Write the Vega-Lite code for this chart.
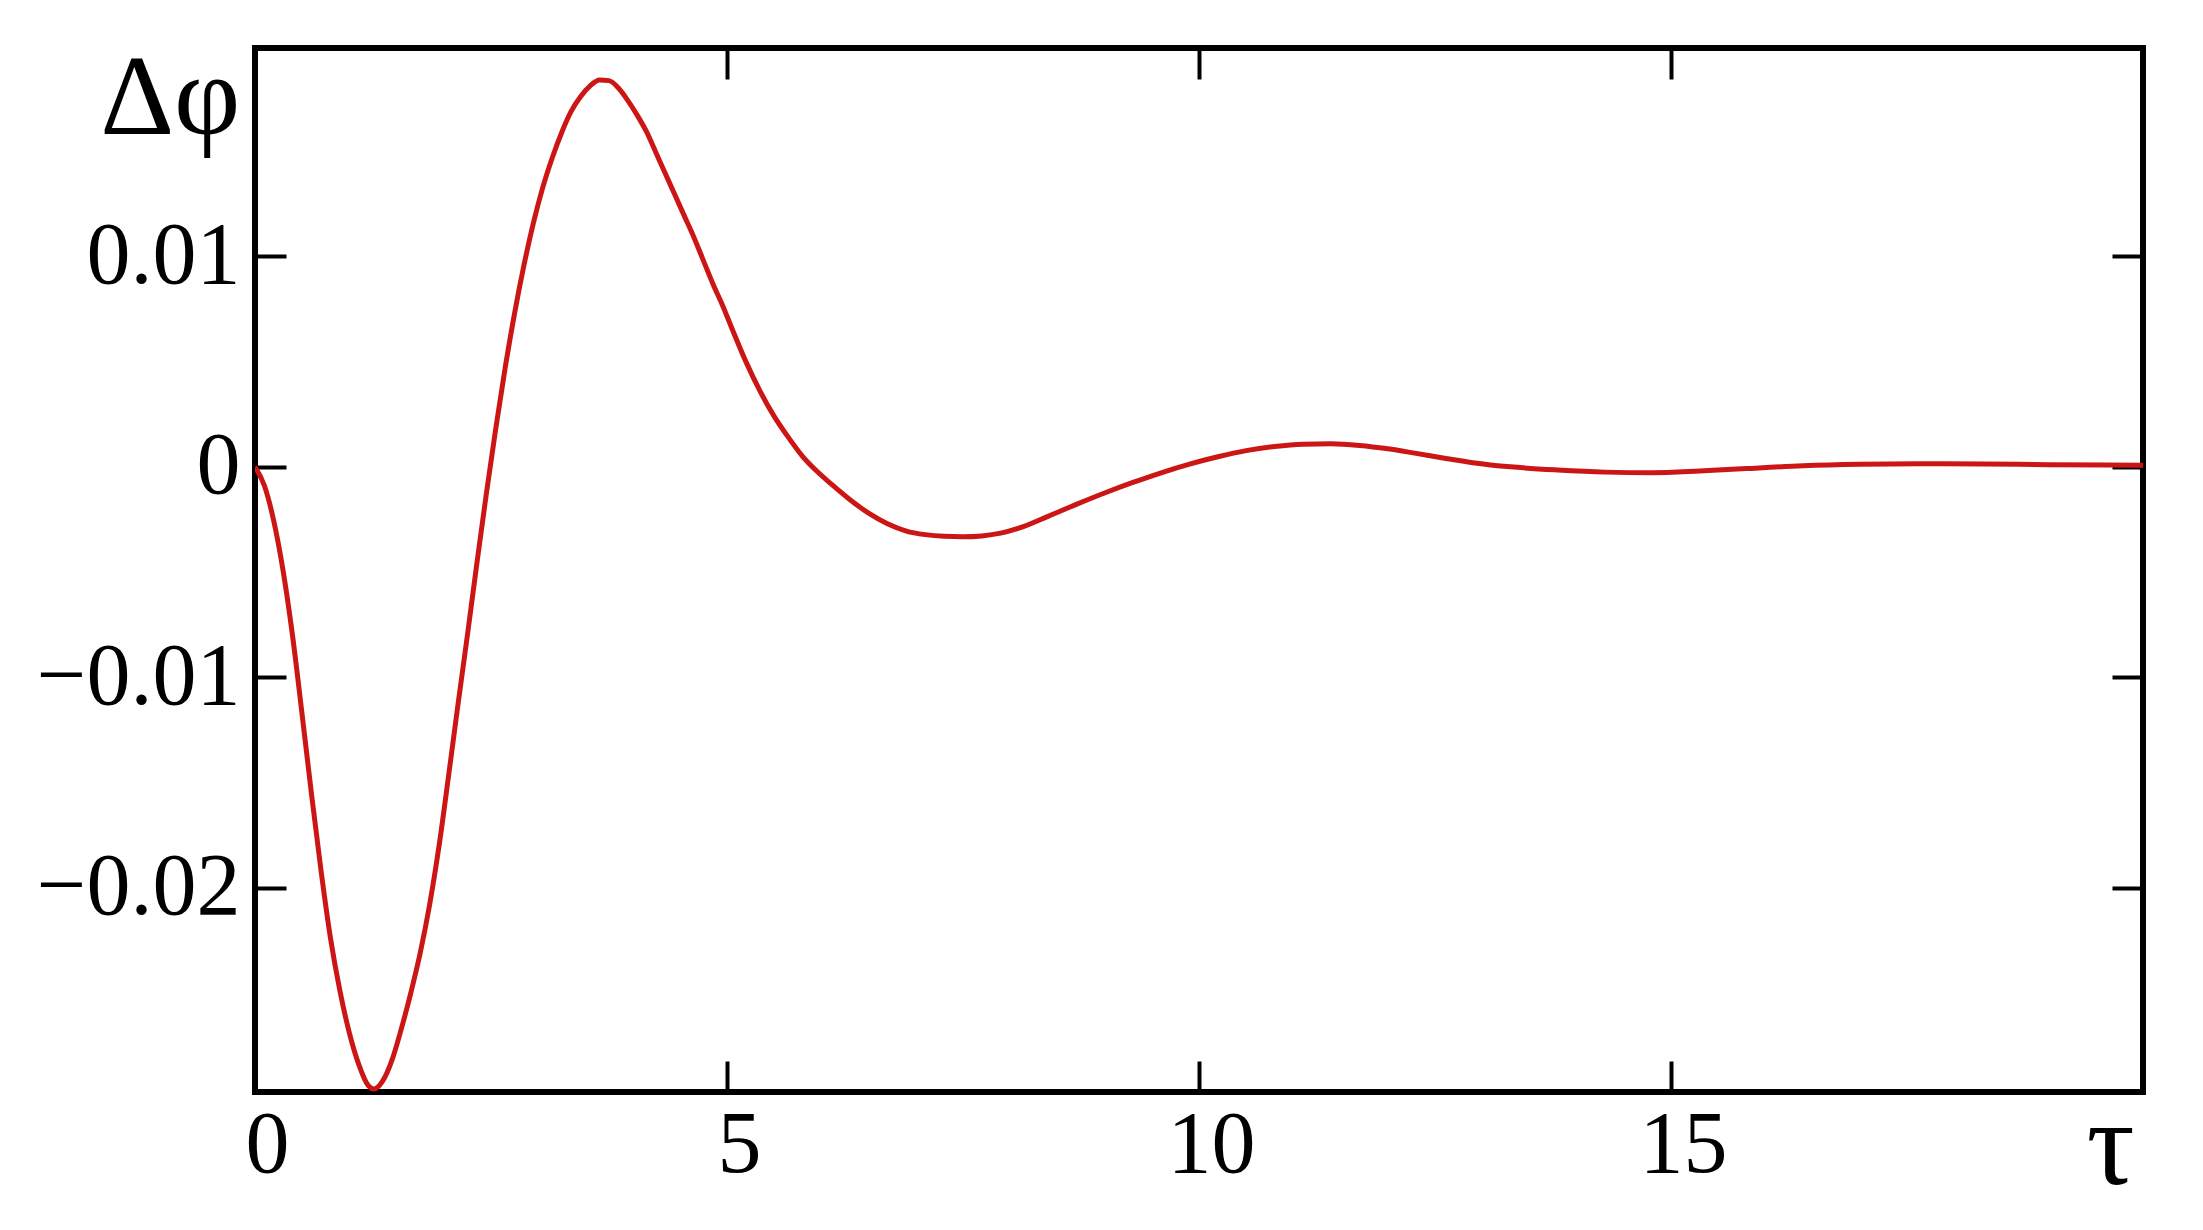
{
  "$schema": "https://vega.github.io/schema/vega-lite/v6.json",
  "autosize": {"type": "none"},
  "padding": {"left": 255, "top": 48, "right": 60, "bottom": 138},
  "width": 1888,
  "height": 1044,
  "background": "white",
  "config": {
    "view": {"stroke": "black", "strokeWidth": 6},
    "axis": {
      "grid": false,
      "domain": false,
      "tickColor": "black",
      "tickWidth": 4,
      "tickSize": -31,
      "labelFont": "Liberation Serif",
      "labelFontSize": 88,
      "labelColor": "black",
      "labelLimit": 0,
      "titleFont": "Liberation Serif",
      "titleFontWeight": "normal",
      "titleColor": "black"
    }
  },
  "data": {
    "values": [
      {"t": 0, "v": 0},
      {"t": 0.1, "v": -0.0009},
      {"t": 0.2, "v": -0.0026},
      {"t": 0.3, "v": -0.005},
      {"t": 0.4, "v": -0.0081},
      {"t": 0.5, "v": -0.0118},
      {"t": 0.6, "v": -0.0156},
      {"t": 0.7, "v": -0.0192},
      {"t": 0.8, "v": -0.0224},
      {"t": 0.9, "v": -0.0249},
      {"t": 1.0, "v": -0.0269},
      {"t": 1.1, "v": -0.0284},
      {"t": 1.2, "v": -0.0294},
      {"t": 1.26, "v": -0.02956},
      {"t": 1.35, "v": -0.0292},
      {"t": 1.45, "v": -0.0282},
      {"t": 1.55, "v": -0.0267},
      {"t": 1.65, "v": -0.025},
      {"t": 1.75, "v": -0.0231},
      {"t": 1.85, "v": -0.0208},
      {"t": 1.95, "v": -0.018},
      {"t": 2.05, "v": -0.0147},
      {"t": 2.15, "v": -0.0113},
      {"t": 2.25, "v": -0.008},
      {"t": 2.35, "v": -0.0046},
      {"t": 2.45, "v": -0.0013},
      {"t": 2.55, "v": 0.0018},
      {"t": 2.65, "v": 0.0047},
      {"t": 2.75, "v": 0.0073},
      {"t": 2.85, "v": 0.0096},
      {"t": 2.95, "v": 0.0116},
      {"t": 3.05, "v": 0.0133},
      {"t": 3.15, "v": 0.0147},
      {"t": 3.25, "v": 0.0159},
      {"t": 3.35, "v": 0.0169},
      {"t": 3.45, "v": 0.0176},
      {"t": 3.55, "v": 0.0181},
      {"t": 3.65, "v": 0.01838},
      {"t": 3.75, "v": 0.01835},
      {"t": 3.85, "v": 0.018},
      {"t": 3.95, "v": 0.0174},
      {"t": 4.05, "v": 0.0167},
      {"t": 4.15, "v": 0.0159},
      {"t": 4.25, "v": 0.0149},
      {"t": 4.35, "v": 0.0139},
      {"t": 4.45, "v": 0.0129},
      {"t": 4.55, "v": 0.0119},
      {"t": 4.65, "v": 0.0109},
      {"t": 4.75, "v": 0.0098},
      {"t": 4.85, "v": 0.0087},
      {"t": 4.95, "v": 0.0077},
      {"t": 5.05, "v": 0.0066},
      {"t": 5.2, "v": 0.005},
      {"t": 5.35, "v": 0.0036},
      {"t": 5.5, "v": 0.0024},
      {"t": 5.65, "v": 0.0014},
      {"t": 5.8, "v": 0.0005},
      {"t": 5.95, "v": -0.0002},
      {"t": 6.1, "v": -0.0008},
      {"t": 6.3, "v": -0.00155},
      {"t": 6.5, "v": -0.0022},
      {"t": 6.7, "v": -0.0027},
      {"t": 6.9, "v": -0.00305},
      {"t": 7.1, "v": -0.00322},
      {"t": 7.3, "v": -0.0033},
      {"t": 7.5, "v": -0.00332},
      {"t": 7.7, "v": -0.00328},
      {"t": 7.9, "v": -0.00315},
      {"t": 8.1, "v": -0.0029},
      {"t": 8.4, "v": -0.00235},
      {"t": 8.7, "v": -0.00178},
      {"t": 9.0, "v": -0.00124},
      {"t": 9.3, "v": -0.00074},
      {"t": 9.6, "v": -0.00028},
      {"t": 9.9, "v": 0.00013},
      {"t": 10.2, "v": 0.00048},
      {"t": 10.5, "v": 0.00077},
      {"t": 10.8, "v": 0.00097},
      {"t": 11.1, "v": 0.00108},
      {"t": 11.4, "v": 0.0011},
      {"t": 11.7, "v": 0.00102},
      {"t": 12.0, "v": 0.00086},
      {"t": 12.3, "v": 0.00064},
      {"t": 12.6, "v": 0.00041},
      {"t": 12.9, "v": 0.0002},
      {"t": 13.3, "v": 0.0},
      {"t": 13.8, "v": -0.00015},
      {"t": 14.3, "v": -0.00025},
      {"t": 14.8, "v": -0.00028},
      {"t": 15.3, "v": -0.0002},
      {"t": 15.8, "v": -0.00008},
      {"t": 16.4, "v": 0.00005},
      {"t": 17.0, "v": 0.00012},
      {"t": 17.6, "v": 0.00015},
      {"t": 18.3, "v": 0.00014},
      {"t": 19.0, "v": 0.0001},
      {"t": 20, "v": 0.00008}
    ]
  },
  "layer": [
    {
      "mark": {"type": "line", "color": "#cc1616", "strokeWidth": 5, "interpolate": "monotone", "clip": true},
      "encoding": {
        "x": {
          "field": "t", "type": "quantitative",
          "scale": {"domain": [0, 20], "nice": false, "zero": false},
          "axis": {
            "orient": "bottom",
            "values": [0, 5, 10, 15],
            "labelPadding": 40,
            "labelAlign": "center",
            "labelOffset": 12,
            "labelFlush": false,
            "title": "τ",
            "titleFontSize": 120,
            "titleX": 1855,
            "titleY": 91,
            "titleAlign": "center",
            "titleBaseline": "alphabetic",
            "titleAnchor": null
          }
        },
        "y": {
          "field": "v", "type": "quantitative",
          "scale": {"domain": [-0.0297, 0.0199], "nice": false, "zero": false},
          "axis": {
            "orient": "left",
            "values": [-0.02, -0.01, 0, 0.01],
            "labelExpr": "datum.value == 0 ? '0' : format(datum.value, '.2f')",
            "labelPadding": 46,
            "labelBaseline": "middle",
            "labelFlush": false,
            "title": "Δφ",
            "titleFontSize": 115,
            "titleAngle": 0,
            "titleX": -15,
            "titleY": 85,
            "titleAlign": "right",
            "titleBaseline": "alphabetic"
          }
        }
      }
    },
    {
      "mark": {"type": "line", "opacity": 0},
      "encoding": {
        "x": {
          "field": "t", "type": "quantitative",
          "scale": {"domain": [0, 20], "nice": false, "zero": false},
          "axis": {"orient": "top", "values": [5, 10, 15], "labels": false, "title": null}
        },
        "y": {
          "field": "v", "type": "quantitative",
          "scale": {"domain": [-0.0297, 0.0199], "nice": false, "zero": false},
          "axis": {"orient": "right", "values": [-0.02, -0.01, 0, 0.01], "labels": false, "title": null}
        }
      }
    }
  ],
  "resolve": {"axis": {"x": "independent", "y": "independent"}}
}
